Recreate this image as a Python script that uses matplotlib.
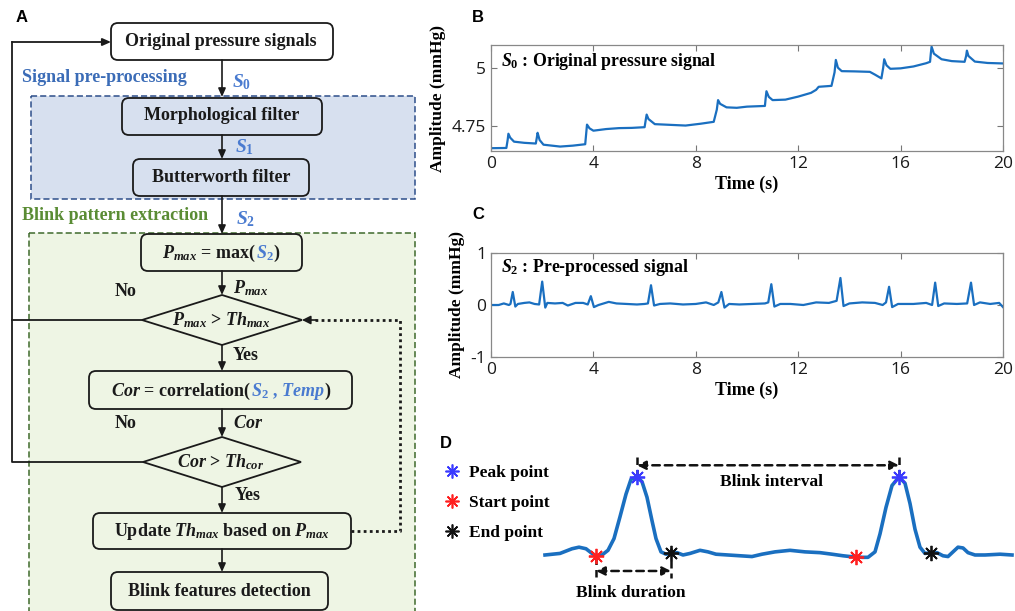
import matplotlib
matplotlib.use("Agg")
import matplotlib.pyplot as plt
from matplotlib.patches import FancyBboxPatch, Rectangle, Polygon
from matplotlib.lines import Line2D

plt.rcParams["mathtext.fontset"] = "custom"
plt.rcParams["mathtext.rm"] = "Liberation Serif:bold"
plt.rcParams["mathtext.it"] = "Liberation Serif:italic:bold"
plt.rcParams["mathtext.bf"] = "Liberation Serif:bold"

# ---- data: panel B (original pressure signal, mmHg) ----
b_time = [0, 0.6, 0.65, 0.68, 0.75, 0.9, 1.3, 1.75, 1.79, 1.82, 1.9, 2.05, 2.7, 3.2, 3.68,
          3.72, 3.75, 3.85, 4.0, 4.5, 5.0, 5.5, 6.0, 6.05, 6.08, 6.15, 6.4, 7.0, 7.6, 8.2,
          8.7, 8.82, 8.87, 8.95, 9.2, 9.6, 10.0, 10.7, 10.73, 10.76, 10.85, 11.0, 11.5,
          12.0, 12.5, 12.7, 12.8, 13.3, 13.42, 13.47, 13.55, 13.7, 14.2, 14.8, 15.0,
          15.25, 15.32, 15.36, 15.45, 15.6, 16.0, 16.5, 17.0, 17.15, 17.18, 17.21, 17.3,
          17.6, 18.0, 18.5, 18.56, 18.59, 18.65, 18.9, 19.4, 20]
b_amp = [4.655, 4.656, 4.690, 4.717, 4.700, 4.683, 4.678, 4.675, 4.700, 4.721, 4.690,
         4.670, 4.662, 4.666, 4.672, 4.720, 4.756, 4.740, 4.730, 4.737, 4.741, 4.742,
         4.745, 4.780, 4.799, 4.780, 4.758, 4.755, 4.752, 4.760, 4.768, 4.820, 4.861,
         4.845, 4.830, 4.828, 4.833, 4.836, 4.870, 4.899, 4.875, 4.861, 4.863, 4.876,
         4.892, 4.905, 4.918, 4.922, 4.980, 5.033, 5.000, 4.985, 4.984, 4.982, 4.970,
         4.954, 5.000, 5.036, 5.010, 4.995, 4.997, 5.005, 5.019, 5.025, 5.060, 5.090,
         5.060, 5.036, 5.028, 5.025, 5.050, 5.073, 5.050, 5.026, 5.020, 5.018]

# ---- data: panel C (pre-processed signal, mmHg) ----
c_time = [0, 0.3, 0.5, 0.7, 0.76, 0.85, 0.95, 1.05, 1.3, 1.5, 1.7, 1.88, 2.0, 2.12, 2.2,
          2.5, 2.8, 3.0, 3.3, 3.6, 3.78, 3.9, 4.02, 4.2, 4.6, 4.9, 5.3, 5.7, 6.0, 6.13,
          6.25, 6.37, 6.6, 7.0, 7.5, 8.0, 8.4, 8.7, 8.88, 9.0, 9.12, 9.3, 9.7, 10.2, 10.7,
          10.83, 10.95, 11.07, 11.3, 11.7, 12.2, 12.7, 13.2, 13.5, 13.65, 13.77, 14.0,
          14.5, 15.0, 15.3, 15.43, 15.55, 15.67, 15.9, 16.5, 17.0, 17.23, 17.35, 17.47,
          17.7, 18.2, 18.6, 18.75, 18.87, 19.1, 19.5, 19.85, 20]
c_amp = [0.0, 0.0, 0.03, 0.0, 0.02, 0.25, -0.03, 0.02, 0.04, 0.05, 0.02, 0.01, 0.45,
         -0.05, 0.04, 0.03, 0.04, -0.01, 0.04, 0.04, 0.01, 0.17, -0.04, 0.0, 0.06, 0.03,
         0.02, 0.01, 0.02, 0.03, 0.38, -0.01, 0.02, 0.03, 0.01, 0.02, 0.05, 0.0, 0.05,
         0.25, -0.05, 0.02, 0.01, 0.02, 0.03, 0.05, 0.40, -0.03, 0.02, 0.02, 0.0, 0.05,
         0.04, 0.08, 0.52, -0.02, 0.03, 0.05, 0.04, 0.0, 0.05, 0.35, -0.04, 0.02, 0.02,
         0.04, 0.0, 0.43, -0.02, 0.03, 0.02, 0.03, 0.43, 0.0, 0.05, 0.02, 0.04, -0.04]

# ---- data: panel D (schematic blink waveform) ----
d_time = [0.00, 0.15, 0.27, 0.34, 0.41, 0.47, 0.51, 0.57, 0.63, 0.69, 0.75, 0.81, 0.86,
          0.92, 0.97, 1.02, 1.07, 1.11, 1.16, 1.21, 1.26, 1.32, 1.38, 1.45, 1.55, 1.63,
          1.71, 1.83, 1.95, 2.07, 2.17, 2.30, 2.45, 2.60, 2.75, 2.87, 2.98, 3.05, 3.11,
          3.17, 3.23, 3.30, 3.35, 3.41, 3.47, 3.54, 3.60, 3.65, 3.70, 3.75, 3.80, 3.86,
          3.92, 3.98, 4.03, 4.08, 4.13, 4.18, 4.23, 4.30, 4.40, 4.55, 4.67]
d_amp = [0.00, 0.02, 0.08, 0.10, 0.08, 0.02, -0.01, 0.00, 0.06, 0.21, 0.49, 0.78, 0.97,
         1.00, 0.94, 0.74, 0.44, 0.21, 0.04, 0.01, 0.02, 0.03, 0.00, 0.02, 0.06, 0.04,
         0.01, 0.00, -0.01, -0.02, 0.01, 0.04, 0.06, 0.04, 0.03, 0.01, -0.01, -0.02,
         -0.02, -0.03, -0.03, 0.04, 0.27, 0.61, 0.89, 1.00, 0.92, 0.66, 0.33, 0.10, 0.02,
         0.03, 0.03, -0.01, -0.02, 0.04, 0.10, 0.09, 0.03, 0.00, 0.00, 0.01, 0.00]
peak_t, peak_a = [0.92, 3.54], [1.00, 1.00]
start_t, start_a = [0.51, 3.11], [-0.01, -0.02]
end_t, end_a = [1.26, 3.86], [0.02, 0.03]
legend_labels = ["Peak point", "Start point", "End point"]

W, H = 1015, 611
SERIF = "Liberation Serif"
BLUE_LINE = "#1a6fc0"
MATH_BLUE = "#4a7bd0"

fig = plt.figure(figsize=(W / 100, H / 100), dpi=100)
ax0 = fig.add_axes([0, 0, 1, 1])
ax0.set_xlim(0, W)
ax0.set_ylim(H, 0)
ax0.axis("off")


def px_axes(l, t, r, b):
    return fig.add_axes([l / W, 1 - b / H, (r - l) / W, (b - t) / H])


def box(x0, y0, x1, y1, fc="none"):
    ax0.add_patch(FancyBboxPatch((x0, y0), x1 - x0, y1 - y0,
                                 boxstyle="round,pad=0,rounding_size=7",
                                 fc=fc, ec="#1a1a1a", lw=1.3, zorder=3))


def diamond(cx, cy, hw, hh):
    ax0.add_patch(Polygon([(cx - hw, cy), (cx, cy - hh), (cx + hw, cy), (cx, cy + hh)],
                          closed=True, fc="none", ec="#1a1a1a", lw=1.3, zorder=3))


def arrow(x, y0, y1):
    ax0.annotate("", xy=(x, y1), xytext=(x, y0),
                 arrowprops=dict(arrowstyle="-|>,head_length=0.5,head_width=0.22",
                                 color="#1a1a1a", lw=1.2, shrinkA=0, shrinkB=0), zorder=4)


def label(x, y, s, size=13, color="#1a1a1a", ha="center"):
    ax0.text(x, y, s, fontsize=size, color=color, ha=ha, va="center",
             family=SERIF, fontweight="bold", zorder=5)


def rich(x, y, parts, size=13):
    # several coloured pieces on one baseline, centred on x
    r = fig.canvas.get_renderer()
    objs = [ax0.text(0, y, s, color=c, fontsize=size, family=SERIF, fontweight="bold",
                     ha="left", va="baseline", zorder=5) for s, c in parts]
    widths = [o.get_window_extent(r).width for o in objs]
    x0 = x - sum(widths) / 2
    for o, w in zip(objs, widths):
        o.set_x(x0)
        x0 += w


# ---- panel A: flow chart ----
ax0.add_patch(Rectangle((31, 96), 384, 103, fc="#d7e0ef", ec="#2d4e8a", lw=1.1,
                        ls=(0, (4, 2)), zorder=1))
ax0.add_patch(Rectangle((29, 233), 386, 400, fc="#eef5e4", ec="#3f6a2c", lw=1.1,
                        ls=(0, (4, 2)), zorder=1))

box(111, 23, 333, 60, fc="white")
box(122, 98, 322, 135)
box(133, 159, 309, 196)
box(141, 234, 302, 271)
diamond(222, 320, 80, 25)
box(89, 371, 352, 409)
diamond(222, 462, 79, 25)
box(93, 513, 351, 549)
box(111, 572, 328, 610)

arrow(222, 60, 97)
arrow(222, 135, 159)
arrow(222, 196, 234)
arrow(222, 271, 295)
arrow(222, 345, 371)
arrow(222, 409, 437)
arrow(222, 487, 513)
arrow(222, 549, 572)

# "No" feedback loop
ax0.plot([143, 12, 12], [462, 462, 42], color="#1a1a1a", lw=1.3, zorder=2)
ax0.plot([142, 12], [320, 320], color="#1a1a1a", lw=1.3, zorder=2)
ax0.annotate("", xy=(111, 42), xytext=(12, 42),
             arrowprops=dict(arrowstyle="-|>,head_length=0.5,head_width=0.22",
                             color="#1a1a1a", lw=1.3, shrinkA=0, shrinkB=0), zorder=4)
# dotted threshold update loop
ax0.plot([351, 400, 400, 315], [531, 531, 320, 320], color="#1a1a1a", lw=2,
         ls=(0, (1, 1.2)), zorder=2)
ax0.annotate("", xy=(302, 320), xytext=(316, 320),
             arrowprops=dict(arrowstyle="-|>,head_length=0.5,head_width=0.25",
                             color="#1a1a1a", lw=1.2, shrinkA=0, shrinkB=0), zorder=4)

ax0.text(22, 18, "A", fontsize=12, fontweight="bold", family="Liberation Sans",
         ha="center", va="center")
label(125, 42, "Original pressure signals", ha="left")
label(22, 78, "Signal pre-processing", color="#3b6cb7", ha="left")
label(232, 82, "$S_0$", size=14, color=MATH_BLUE, ha="left")
label(222, 116, "Morphological filter")
label(235, 147, "$S_1$", size=14, color=MATH_BLUE, ha="left")
label(221, 177, "Butterworth filter")
label(22, 216, "Blink pattern extraction", color="#5a8c34", ha="left")
label(236, 219, "$S_2$", size=14, color=MATH_BLUE, ha="left")
rich(221, 258, [("$P_{max}$ = max(", "#1a1a1a"), ("$S_2$", MATH_BLUE), (")", "#1a1a1a")])
label(233, 288, "$P_{max}$", ha="left")
label(126, 291, "No")
rich(221, 325, [("$P_{max}$ > $Th_{max}$", "#1a1a1a")])
label(233, 355, "Yes", ha="left")
rich(221, 396, [("$Cor$ = correlation(", "#1a1a1a"), ("$S_2$ , $Temp$", MATH_BLUE),
                (")", "#1a1a1a")])
label(126, 424, "No")
label(233, 424, "$Cor$", ha="left")
rich(221, 467, [("$Cor$ > $Th_{cor}$", "#1a1a1a")])
label(235, 496, "Yes", ha="left")
rich(222, 536, [("Update $Th_{max}$ based on $P_{max}$", "#1a1a1a")])
label(219, 591, "Blink features detection")


def style_axes(ax):
    ax.tick_params(direction="in", top=True, right=True, length=4, width=0.8,
                   labelsize=12.5, colors="#1a1a1a", labelfontfamily="Open Sans")
    ax.tick_params(colors="#777777", which="both", labelcolor="#1a1a1a")
    for s in ax.spines.values():
        s.set_color("#888888")
        s.set_linewidth(0.9)
    ax.set_xlim(0, 20)
    ax.set_xticks(range(0, 21, 4))
    ax.set_xlabel("Time (s)", fontsize=13, family=SERIF, fontweight="bold", labelpad=3)
    ax.set_ylabel("Amplitude (mmHg)", fontsize=12.5, family=SERIF, fontweight="bold",
                  labelpad=4)


# ---- panel B ----
ax_b = px_axes(491, 45, 1003, 151)
ax_b.plot(b_time, b_amp, color=BLUE_LINE, lw=1.6)
style_axes(ax_b)
ax_b.set_ylim(4.643, 5.097)
ax_b.set_yticks([4.75, 5])
ax_b.set_yticklabels(["4.75", "5"])
ax_b.text(0.02, 0.84, "$S_0$ : Original pressure signal", transform=ax_b.transAxes,
          fontsize=12.8, family=SERIF, fontweight="bold", va="center")
fig.text(478 / W, 1 - 18 / H, "B", fontsize=12, fontweight="bold",
         family="Liberation Sans", ha="center", va="center")

# ---- panel C ----
ax_c = px_axes(491, 253, 1003, 357)
ax_c.plot(c_time, c_amp, color=BLUE_LINE, lw=1.6)
style_axes(ax_c)
ax_c.set_ylim(-1, 1)
ax_c.set_yticks([-1, 0, 1])
ax_c.set_yticklabels(["-1", "0", "1"])
ax_c.text(0.02, 0.86, "$S_2$ : Pre-processed signal", transform=ax_c.transAxes,
          fontsize=12.8, family=SERIF, fontweight="bold", va="center")
fig.text(478 / W, 1 - 214 / H, "C", fontsize=12, fontweight="bold",
         family="Liberation Sans", ha="center", va="center")

# ---- panel D ----
ax_d = px_axes(530, 440, 1015, 611)
ax_d.axis("off")
ax_d.set_xlim(-0.15, 4.70)
ax_d.set_ylim(-0.718, 1.474)
ax_d.plot(d_time, d_amp, color=BLUE_LINE, lw=2.6, zorder=2)
ast = (8, 2, 0)
ax_d.plot(peak_t, peak_a, ls="none", marker=ast, ms=11, mew=1.3, color="#3a3aff", zorder=3)
ax_d.plot(start_t, start_a, ls="none", marker=ast, ms=11, mew=1.3, color="#ff2020", zorder=3)
ax_d.plot(end_t, end_a, ls="none", marker=ast, ms=11, mew=1.3, color="#111111", zorder=3)

dash = (0, (3, 2))
# blink interval
for t in peak_t:
    ax_d.plot([t, t], [1.0, 1.31], color="#111111", lw=1.8, ls=dash)
ax_d.annotate("", xy=(peak_t[1], 1.15), xytext=(peak_t[0], 1.15),
              arrowprops=dict(arrowstyle="<|-|>,head_length=0.5,head_width=0.25",
                              color="#111111", lw=1.8, ls=dash, shrinkA=0, shrinkB=0))
ax_d.text(2.26, 0.94, "Blink interval", fontsize=12.5, family=SERIF, fontweight="bold",
          ha="center", va="center")
# blink duration
ax_d.plot([start_t[0], start_t[0]], [-0.02, -0.28], color="#111111", lw=1.8, ls=dash)
ax_d.plot([end_t[0], end_t[0]], [0.09, -0.30], color="#111111", lw=1.8, ls=dash)
ax_d.annotate("", xy=(end_t[0], -0.205), xytext=(start_t[0], -0.205),
              arrowprops=dict(arrowstyle="<|-|>,head_length=0.5,head_width=0.25",
                              color="#111111", lw=1.8, ls=dash, shrinkA=0, shrinkB=0))
ax_d.text(0.86, -0.49, "Blink duration", fontsize=12.5, family=SERIF, fontweight="bold",
          ha="center", va="center")

handles = [Line2D([], [], ls="none", marker=ast, ms=10, mew=1.2, color=c)
           for c in ["#3a3aff", "#ff2020", "#111111"]]
ax_d.legend(handles, legend_labels, loc="upper left",
            bbox_to_anchor=(443 / W, 1 - 465 / H), bbox_transform=fig.transFigure,
            frameon=False, handlelength=1.0, handletextpad=0.5, labelspacing=0.8,
            borderpad=0, borderaxespad=0,
            prop=dict(family=SERIF, weight="bold", size=12.5))
fig.text(446 / W, 1 - 444 / H, "D", fontsize=12, fontweight="bold",
         family="Liberation Sans", ha="center", va="center")

fig.savefig("out.png", dpi=100)
